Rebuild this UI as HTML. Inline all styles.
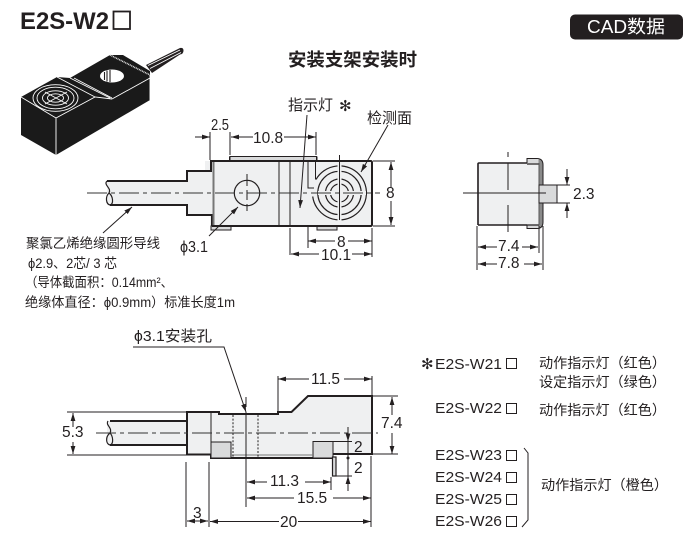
<!DOCTYPE html>
<html><head><meta charset="utf-8"><style>
html,body{margin:0;padding:0;background:#fff;width:692px;height:540px;overflow:hidden}
svg{display:block}
text{font-family:"Liberation Sans","Noto Sans CJK SC",sans-serif;fill:#231f20}
.d{font-size:15.5px}
.th{stroke:#231f20;stroke-width:2;fill:none}
.n{stroke:#231f20;stroke-width:1;fill:none}
.m{stroke:#231f20;stroke-width:1.2;fill:none}
.cl{stroke:#333;stroke-width:1;fill:none;stroke-dasharray:20 4 4 4}
.dot{stroke:#231f20;stroke-width:1;fill:none;stroke-dasharray:2 1.6}
.g{fill:#d9dadb;stroke:#231f20;stroke-width:1}
.f{fill:#eff0f1}
</style></head><body>
<svg width="692" height="540" viewBox="0 0 692 540" xmlns="http://www.w3.org/2000/svg">
<defs>
<marker id="a" viewBox="0 0 10 6" refX="10" refY="3" markerWidth="8" markerHeight="5" markerUnits="userSpaceOnUse" orient="auto-start-reverse"><path d="M0 0L10 3L0 6Z" fill="#231f20"/></marker>
</defs>
<text x="20" y="29" font-weight="700" style="font-size:24px" textLength="89" lengthAdjust="spacingAndGlyphs">E2S-W2</text>
<rect x="113.500" y="11.500" width="16.500" height="17.500" fill="none" stroke="#231f20" stroke-width="1.800"/>
<rect x="570" y="14.500" width="113" height="25" rx="5" fill="#231f20"/>
<text x="587" y="33" style="font-size:18px;fill:#fff" textLength="78" lengthAdjust="spacingAndGlyphs">CAD数据</text>
<text x="288" y="66" font-weight="700" style="font-size:18px" textLength="129" lengthAdjust="spacingAndGlyphs">安装支架安装时</text>

<!-- iso -->
<g>
<path d="M146 65L180 48Q183.500 47.500 183.500 50.500Q183.500 54 180 54.500L152 73Z" fill="#231f20"/>
<path d="M148 65.500L180 50M150 68.500L181 52.500" stroke="#fff" stroke-width=".9" fill="none"/>
<path d="M21 97L57 77L70 78L110 55L123 55L150 71V100L56 155L21 135Z" fill="#1a1a1a"/>
<path d="M110 55L150 75" stroke="#ddd" stroke-width="1.600" stroke-dasharray="1 .7" fill="none"/>
<path d="M21 97L56 118L95 97M112 99L150 78M56 118V155M57 77L95 97L112 99M70 78L110 98M74 78L112 98M150 75V100" stroke="#fff" stroke-width=".9" fill="none"/>
<ellipse cx="112" cy="76" rx="12" ry="6.500" fill="#fff"/>
<path d="M104.500 72V80M107 70.500V81.500M110 70V82" stroke="#231f20" stroke-width="1.100"/>
<g fill="none" stroke="#fff" stroke-width=".9">
<ellipse cx="55.500" cy="98" rx="22.500" ry="13.300"/><ellipse cx="55.500" cy="98" rx="18.500" ry="10.800"/><ellipse cx="55.500" cy="98" rx="13" ry="7.200"/><ellipse cx="55.500" cy="98" rx="8" ry="4.200"/>
<path d="M45 92L67 104M45 104L67 92"/>
</g>
</g>

<!-- top view -->
<path class="f" d="M107 181H187V171H205V161H372V226H210V215H187V205H107Z"/>
<path d="M107 181H187V171H211V161H230V157.500H316.500V161H371A1.500 1.500 0 0 1 372 162V224.500A1.500 1.500 0 0 1 371 226H212V215H187V205H110" class="th"/>
<rect x="230" y="156.500" width="86.500" height="4" class="g"/>
<rect x="211" y="226" width="20" height="4" class="g"/>
<rect x="317" y="226" width="20" height="4" class="g"/>
<path d="M213.500 162V226" stroke="#777" stroke-width="2" fill="none"/>
<path d="M230 161H371M212 226H371" stroke="#231f20" stroke-width="2" fill="none"/>
<path d="M107 181C103 185 112 188 109 193C105 197 106 204 110 205C114 204 113 196 109 193" class="m" stroke-width="1.300"/>
<path class="n" d="M279 161V226M290 161V226M308 161V188H314M315.500 161V179.500"/>
<circle cx="247" cy="193" r="12.700" class="m"/>
<path class="n" d="M247 174V186M247 190V200M247 204V211"/>
<g class="m" stroke-width="1.400">
<path d="M316 179.500A27 27 0 1 1 312.700 196.500"/>
<circle cx="339.500" cy="193" r="21.700"/>
<circle cx="339.500" cy="193" r="14"/>
<circle cx="339.500" cy="193" r="9"/>
</g>
<path d="M339.500 165V221M318 193H366" stroke="#eff0f1" stroke-width="4" fill="none"/>
<path class="n" d="M339.500 155V220"/>
<path class="cl" d="M87 193H380"/>
<!-- top dims -->
<path class="n" d="M210 132V160M230 132V155M316 132V155M290 228V255M308 226V248M372 228V257M373 161H395M373 226H395"/>
<path class="n" d="M195 137H210" marker-end="url(#a)"/>
<path class="n" d="M231 137H253" marker-start="url(#a)"/>
<path class="n" d="M284 137H316" marker-end="url(#a)"/>
<path class="n" d="M308 241H335" marker-start="url(#a)"/>
<path class="n" d="M348 241H372" marker-end="url(#a)"/>
<path class="n" d="M291 254H319" marker-start="url(#a)"/>
<path class="n" d="M352 254H372" marker-end="url(#a)"/>
<path class="n" d="M391 162V187" marker-start="url(#a)"/>
<path class="n" d="M391 201V225" marker-end="url(#a)"/>
<text x="211" y="130" style="font-size:15.500px" textLength="18" lengthAdjust="spacingAndGlyphs">2.5</text>
<text class="d" x="253" y="143">10.8</text>
<text class="d" x="337" y="247">8</text>
<text class="d" x="321" y="260">10.1</text>
<text class="d" x="386" y="198">8</text>
<text x="288" y="110" style="font-size:15px">指示灯</text>
<text x="339" y="111" style="font-size:15px">✻</text>
<text x="367" y="123" style="font-size:15px">检测面</text>
<path class="n" d="M307 115L300 208" marker-end="url(#a)"/>
<path class="n" d="M388 125L361 172" marker-end="url(#a)"/>
<path class="n" d="M209 236L238 207" marker-end="url(#a)"/>
<path class="n" d="M103 233L132 207" marker-end="url(#a)"/>
<text x="180" y="252" style="font-size:15.500px" textLength="28" lengthAdjust="spacingAndGlyphs">ϕ3.1</text>
<g style="font-size:13.400px">
<text x="26" y="248" textLength="134" lengthAdjust="spacingAndGlyphs">聚氯乙烯绝缘圆形导线</text>
<text x="28" y="268" textLength="89" lengthAdjust="spacingAndGlyphs">ϕ2.9、2芯/ 3 芯</text>
<text x="25" y="287" textLength="148" lengthAdjust="spacingAndGlyphs">（导体截面积：0.14mm²、</text>
<text x="25" y="307" textLength="210" lengthAdjust="spacingAndGlyphs">绝缘体直径：ϕ0.9mm）标准长度1m</text>
</g>

<!-- side view -->
<path class="f" d="M477 163H539V225H477Z"/>
<path d="M478 225V164Q478 163 479 163H527M478 225H527" stroke="#231f20" stroke-width="1.600" fill="none"/>
<path d="M527 163V158.500H537Q543 158.500 543 165V222Q543 228.500 537 228.500H527V225" fill="#8a8a8a" stroke="#231f20" stroke-width="1"/>
<rect x="527.500" y="159" width="11" height="4" fill="#d9dadb"/>
<rect x="527.500" y="225" width="11" height="3" fill="#d9dadb"/>
<rect x="527" y="163" width="12" height="62" fill="#eff0f1"/>
<path d="M539 164H527M539 225H527" stroke="#231f20" stroke-width="1.300"/>
<path d="M539 163V225" stroke="#555" stroke-width="1"/>
<rect x="539" y="185" width="18" height="18" fill="#d9dadb" stroke="#231f20" stroke-width="1"/>
<path class="n" d="M463 193H546M508 152V157M508 163V190M508 205V232"/>
<path class="n" d="M477 226V270M539 226V253M543 226V270M557 185H570M557 203H570"/>
<path class="n" d="M567 169V185" marker-end="url(#a)"/>
<path class="n" d="M567 218V203" marker-end="url(#a)"/>
<path class="n" d="M478 247H497" marker-start="url(#a)"/>
<path class="n" d="M522 247H538" marker-end="url(#a)"/>
<path class="n" d="M478 264H497" marker-start="url(#a)"/>
<path class="n" d="M524 264H542" marker-end="url(#a)"/>
<text class="d" x="573" y="199">2.3</text>
<text class="d" x="498" y="251">7.4</text>
<text class="d" x="498" y="268">7.8</text>

<!-- bottom view -->
<path class="f" d="M107 421H187V412H218V414H278V412H291L308 396H372V454H333V458H211V455H187V445H107Z"/>
<path class="th" d="M110 421H187V412H219V414H278V412H291.500L308 396H372V454H333"/>
<path class="th" d="M110 445H187V454.500H211V458H333"/>
<path class="th" d="M187 421V445"/>
<path class="n" d="M211 412V442"/>
<rect x="211" y="442" width="20" height="16" class="g"/>
<rect x="313" y="441.500" width="20" height="16.500" class="g"/>
<path d="M231 455H313" stroke="#777" stroke-width="1" fill="none"/>
<rect x="332.500" y="457" width="3.500" height="19" fill="#d9dadb" stroke="#231f20" stroke-width="1.200"/>
<path d="M108 421C105 425 113 428 110 433C105 437 106 444 110 445C114 444 113 436 110 433" class="m" stroke-width="1.300"/>
<path class="dot" d="M233 415V458M258 415V458"/>
<path class="cl" d="M96 433H378"/>
<path class="n" d="M246 397V407M246 412V507"/>
<!-- bottom dims -->
<path class="n" d="M67 412H187M67 455H187"/>
<path class="n" d="M73 413V427" marker-start="url(#a)"/>
<path class="n" d="M73 442V454" marker-end="url(#a)"/>
<text class="d" x="62" y="437">5.3</text>
<path class="n" d="M186 462V527M209 462V527"/>
<path class="n" d="M187 521H208" marker-start="url(#a)" marker-end="url(#a)"/>
<text class="d" x="193" y="518">3</text>
<path class="n" d="M210 521.500H279" marker-start="url(#a)"/>
<path class="n" d="M298 521.500H371" marker-end="url(#a)"/>
<text class="d" x="280" y="527">20</text>
<path class="n" d="M371 456V527M331 477V490M278 376V411M372 376V395M373 396H398M373 454H398M333 441.500H352M336 476H352"/>
<path class="n" d="M278 379H309" marker-start="url(#a)"/>
<path class="n" d="M344 379H372" marker-end="url(#a)"/>
<text class="d" x="311" y="384">11.5</text>
<path class="n" d="M392 397V415" marker-start="url(#a)"/>
<path class="n" d="M392 433V454" marker-end="url(#a)"/>
<text class="d" x="381" y="428">7.4</text>
<path class="n" d="M348 427V441.500" marker-end="url(#a)"/>
<path class="n" d="M348 491V476" marker-end="url(#a)"/>
<path class="n" d="M348 441V476"/>
<circle cx="348" cy="458" r="1.500" fill="#231f20"/>
<text class="d" x="354" y="452">2</text>
<text class="d" x="354" y="473">2</text>
<path class="n" d="M247 482H267" marker-start="url(#a)"/>
<path class="n" d="M305 482H331" marker-end="url(#a)"/>
<text class="d" x="270" y="486">11.3</text>
<path class="n" d="M247 498H294" marker-start="url(#a)"/>
<path class="n" d="M333 498H371" marker-end="url(#a)"/>
<text class="d" x="297" y="503">15.5</text>
<text x="134" y="341" style="font-size:15px" textLength="78" lengthAdjust="spacingAndGlyphs">ϕ3.1安装孔</text>
<path class="n" d="M133 347H224L246 412" marker-end="url(#a)"/>

<!-- legend -->
<text x="421" y="369" style="font-size:15px">✻</text>
<g style="font-size:15px">
<text x="435" y="369" textLength="67" lengthAdjust="spacingAndGlyphs">E2S-W21</text>
<text x="435" y="413" textLength="67" lengthAdjust="spacingAndGlyphs">E2S-W22</text>
<text x="435" y="460" textLength="67" lengthAdjust="spacingAndGlyphs">E2S-W23</text>
<text x="435" y="482" textLength="67" lengthAdjust="spacingAndGlyphs">E2S-W24</text>
<text x="435" y="504" textLength="67" lengthAdjust="spacingAndGlyphs">E2S-W25</text>
<text x="435" y="526" textLength="67" lengthAdjust="spacingAndGlyphs">E2S-W26</text>
</g>
<g style="font-size:14px">
<text x="539" y="368" textLength="127" lengthAdjust="spacingAndGlyphs">动作指示灯（红色）</text>
<text x="539" y="387" textLength="127" lengthAdjust="spacingAndGlyphs">设定指示灯（绿色）</text>
<text x="539" y="415" textLength="127" lengthAdjust="spacingAndGlyphs">动作指示灯（红色）</text>
<text x="541" y="490" textLength="127" lengthAdjust="spacingAndGlyphs">动作指示灯（橙色）</text>
</g>
<g fill="none" stroke="#231f20" stroke-width="1">
<rect x="506.500" y="358.500" width="10" height="10"/><rect x="506.500" y="403.500" width="10" height="10"/>
<rect x="506.500" y="450.500" width="10" height="10"/><rect x="506.500" y="472.500" width="10" height="10"/>
<rect x="506.500" y="494.500" width="10" height="10"/><rect x="506.500" y="516.500" width="10" height="10"/>
<path d="M524 448L528 453V520L522 527"/>
</g>
</svg>
</body></html>
